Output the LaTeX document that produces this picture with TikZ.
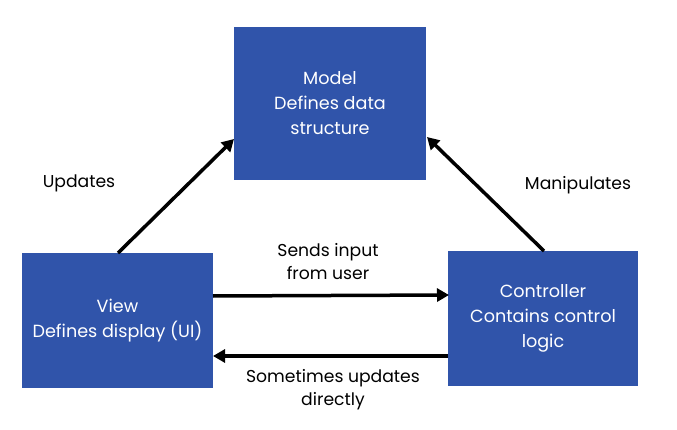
\documentclass[tikz,border=0pt]{standalone}
\usepackage{fontspec}
\setmainfont{Poppins}
\usetikzlibrary{arrows.meta}
\definecolor{boxblue}{RGB}{48,84,170}
\begin{document}
\begin{tikzpicture}[x=1pt,y=-1pt,
  mvcbox/.style={fill=boxblue,draw=none,text=white,align=center,font=\fontsize{17.6}{25}\selectfont,inner sep=0pt},
  conn/.style={line width=3.5pt,-{Triangle[length=12pt,width=13pt]}},
  lbl/.style={align=center,font=\fontsize{17.2}{23}\selectfont,text=black}]
\useasboundingbox[fill=white] (0,0) rectangle (677,430);
\node[mvcbox,minimum width=192pt,minimum height=153pt] (model) at (330,103.5) {Model\\Defines data\\structure};
\node[mvcbox,minimum width=191pt,minimum height=135pt] (view) at (117.5,320.5) {View\\Defines display (UI)};
\node[mvcbox,minimum width=190pt,minimum height=135pt] (ctrl) at (543,318.5) {Controller\\Contains control\\logic};
\coordinate (vtop) at (118,253);
\coordinate (mleft) at (234,139);
\coordinate (ctop) at (544,251);
\coordinate (mright) at (427,137);
\coordinate (vr1) at (213,296);
\coordinate (cl1) at (449,295);
\coordinate (cl2) at (448,356);
\coordinate (vr2) at (213,356);
\draw[conn] (vtop) -- (mleft);
\draw[conn] (ctop) -- (mright);
\draw[conn] (vr1) -- (cl1);
\draw[conn] (cl2) -- (vr2);
\node[lbl] (lupd) at (79,183) {Updates};
\node[lbl] (lman) at (578,185) {Manipulates};
\node[lbl] (lsend) at (328,261.5) {Sends input\\from user};
\node[lbl] (lsome) at (333,389.5) {Sometimes updates\\directly};
\end{tikzpicture}
\end{document}
